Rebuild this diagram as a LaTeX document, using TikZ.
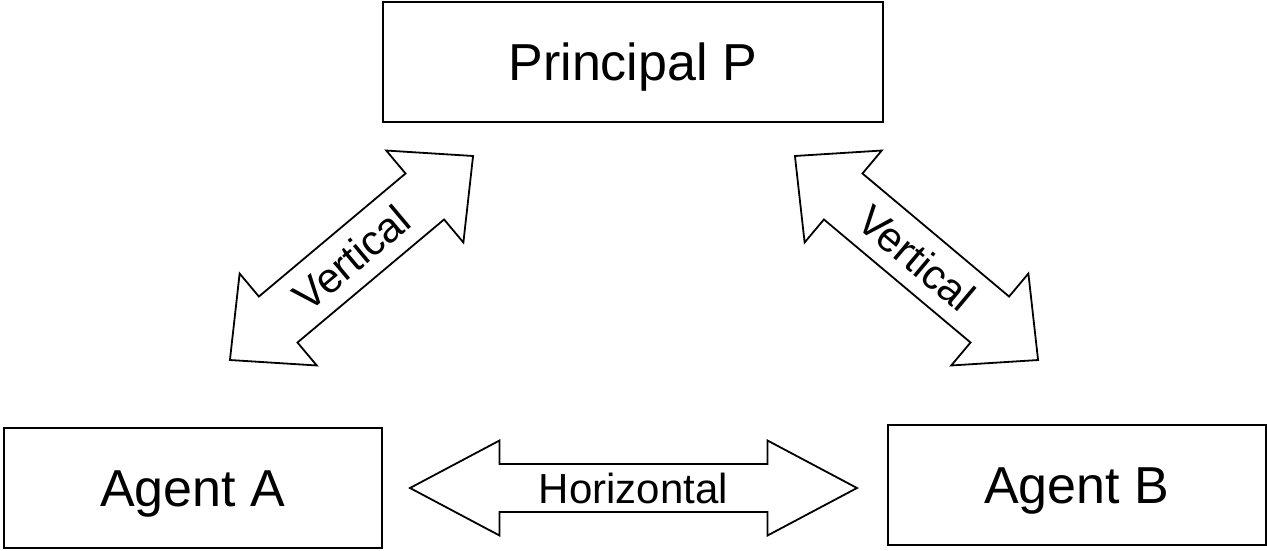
\documentclass[tikz,border=0pt]{standalone}
\usepackage{fontspec}
\setmainfont{Liberation Sans}
\begin{document}
\begin{tikzpicture}[x=1pt,y=-1pt,
  box/.style={draw=black,line width=2pt,fill=white,inner sep=0pt,
    font=\fontsize{52}{60}\selectfont,text height=37.2pt,text depth=0pt},
  blockarrow/.style={draw=black,line width=1.8pt,fill=white,line join=miter},
  arrowlabel/.style={inner sep=0pt,font=\fontsize{42}{50}\selectfont,text height=30pt,text depth=0pt}
]
\useasboundingbox (0,0) rectangle (1267,550);

% boxes
\node[box,minimum width=499.5pt,minimum height=120pt] (P) at (632.75,62) {Principal P};
\node[box,minimum width=378.5pt,minimum height=119.5pt] (A) at (192.75,487.75) {Agent A};
\node[box,minimum width=377.5pt,minimum height=119.5pt] (B) at (1076.75,484.75) {Agent B};

% horizontal double arrow
\begin{scope}[shift={(633.5,488)}]
  \draw[blockarrow] (-223.5,0) -- (-134,-47.5) -- (-134,-24) -- (134,-24) -- (134,-47.5)
    -- (223.5,0) -- (134,47.5) -- (134,24) -- (-134,24) -- (-134,47.5) -- cycle;
  \node[arrowlabel] (hl) at (0,0) {Horizontal};
\end{scope}

% left vertical double arrow
\begin{scope}[shift={(351.5,258)},rotate=40]
  \draw[blockarrow] (-158.7,0) -- (-95.7,-60) -- (-95.7,-30) -- (95.7,-30) -- (95.7,-60)
    -- (158.7,0) -- (95.7,60) -- (95.7,30) -- (-95.7,30) -- (-95.7,60) -- cycle;
  \node[arrowlabel,rotate=40] (vl) at (0,0) {Vertical};
\end{scope}

% right vertical double arrow
\begin{scope}[shift={(916.5,258)},rotate=-40]
  \draw[blockarrow] (-158.7,0) -- (-95.7,-60) -- (-95.7,-30) -- (95.7,-30) -- (95.7,-60)
    -- (158.7,0) -- (95.7,60) -- (95.7,30) -- (-95.7,30) -- (-95.7,60) -- cycle;
  \node[arrowlabel,rotate=-40] (vr) at (0,0) {Vertical};
\end{scope}
\end{tikzpicture}
\end{document}
